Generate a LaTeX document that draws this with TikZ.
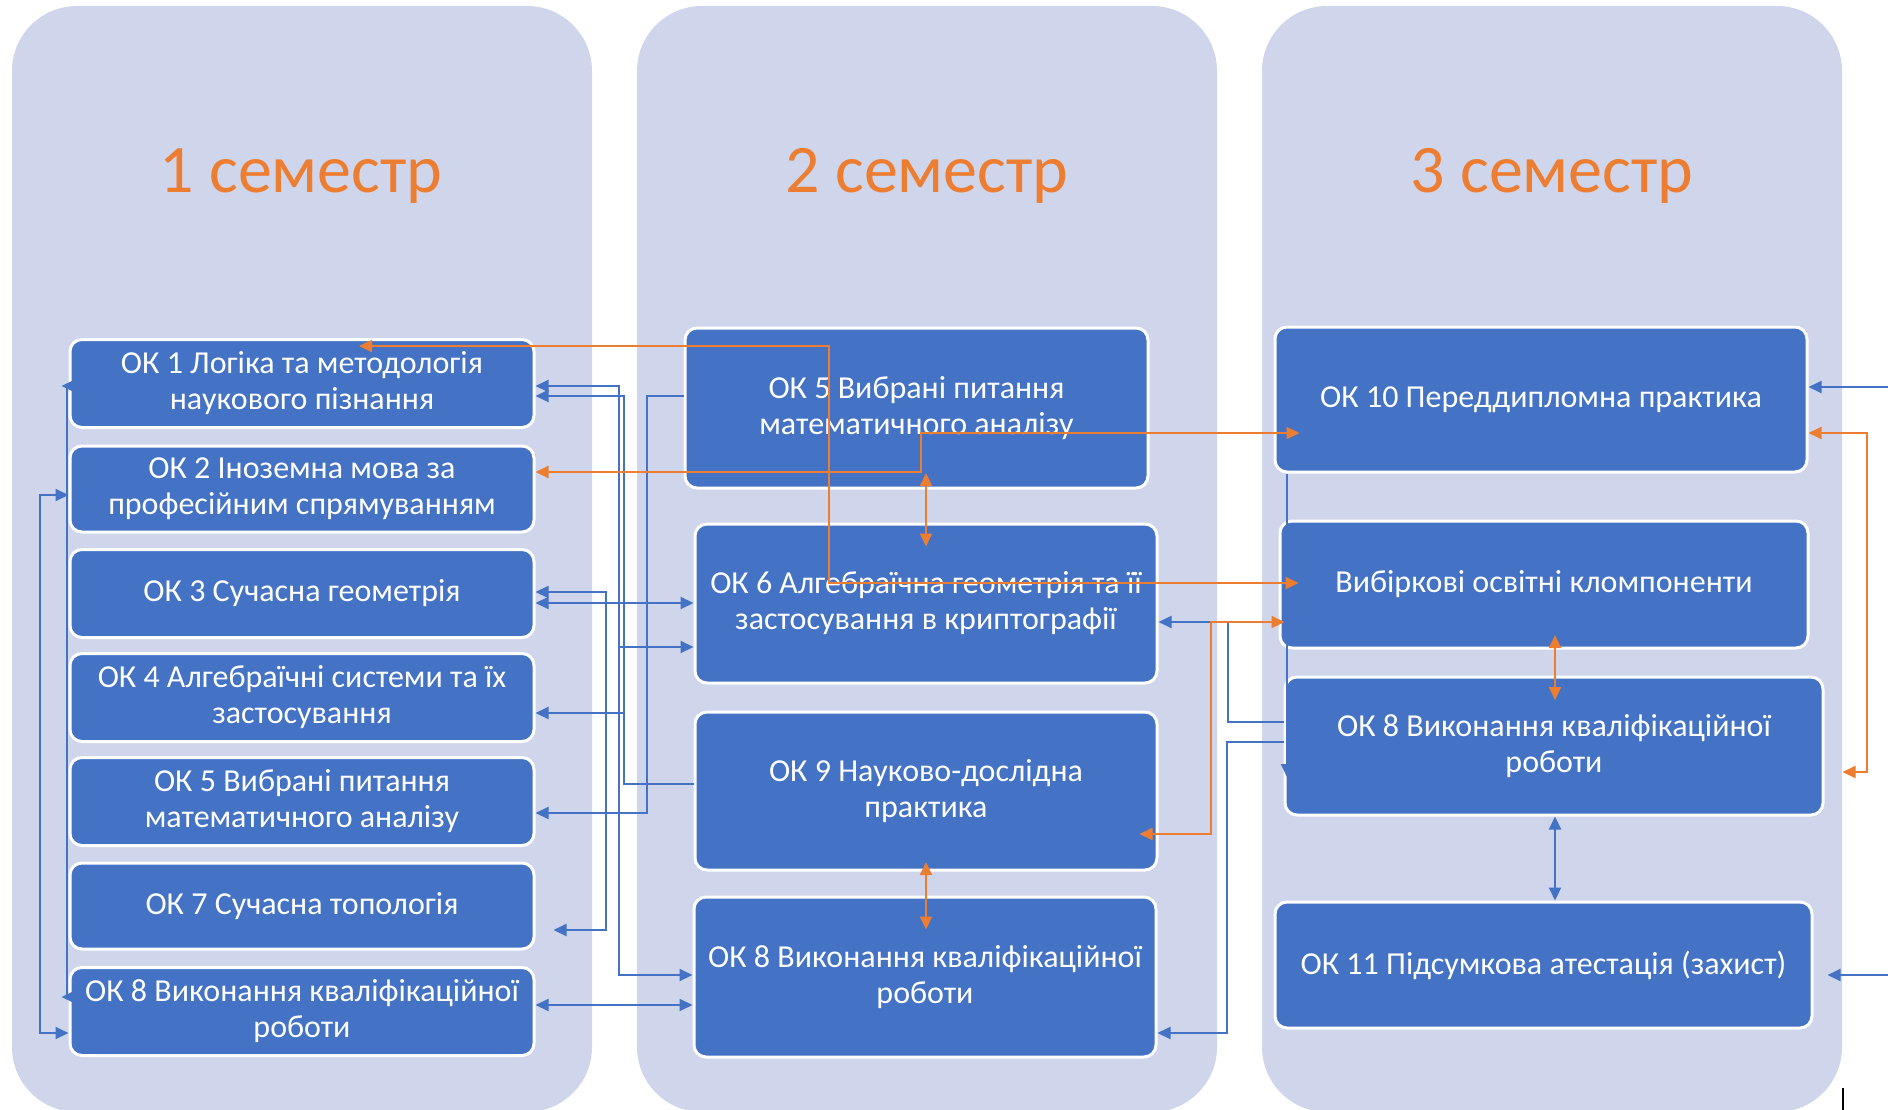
\documentclass[tikz,border=0pt]{standalone}
\usepackage{fontspec}
\setmainfont{Carlito}
\usetikzlibrary{arrows.meta,calc}
\definecolor{colbg}{HTML}{CFD5EA}
\definecolor{boxblue}{HTML}{4472C4}
\definecolor{orng}{HTML}{ED7D31}
\definecolor{lineblue}{HTML}{4472C4}
\begin{document}
\begin{tikzpicture}[x=1pt,y=-1pt,
  colstyle/.style={fill=colbg, draw=none, rounded corners=65pt},
  semtitle/.style={text=orng, font=\fontsize{68}{80}\selectfont, anchor=base, inner sep=0pt},
  okbox/.style={fill=boxblue, draw=white, line width=3pt, rounded corners=12pt, text=white,
    align=center, inner sep=0pt, font=\fontsize{32}{36}\selectfont},
  bl/.style={draw=lineblue, line width=2pt},
  ol/.style={draw=orng, line width=2.2pt},
  >={Triangle[length=13pt,width=12pt]}
]
\useasboundingbox (0,0) rectangle (1888,1110);
% columns
\path[colstyle] (12,6) rectangle (592,1112);
\path[colstyle] (637,6) rectangle (1217,1112);
\path[colstyle] (1262,6) rectangle (1842,1112);
% titles
\node[semtitle] (t1) at (301,193) {1 семестр};
\node[semtitle] (t2) at (927,193) {2 семестр};
\node[semtitle] (t3) at (1552,193) {3 семестр};
% column 1
\node[okbox, minimum width=464pt, minimum height=88pt] (ok1) at (302,383.5) {ОК 1 Логіка та методологія\\наукового пізнання};
\node[okbox, minimum width=464pt, minimum height=86pt] (ok2) at (302,489) {ОК 2 Іноземна мова за\\професійним спрямуванням};
\node[okbox, minimum width=464pt, minimum height=88pt] (ok3) at (302,593.5) {ОК 3 Сучасна геометрія};
\node[okbox, minimum width=464pt, minimum height=88pt] (ok4) at (302,697.5) {ОК 4 Алгебраїчні системи та їх\\застосування};
\node[okbox, minimum width=464pt, minimum height=88pt] (ok5a) at (302,801.5) {ОК 5 Вибрані питання\\математичного аналізу};
\node[okbox, minimum width=464pt, minimum height=86pt] (ok7) at (302,906) {ОК 7 Сучасна топологія};
\node[okbox, minimum width=464pt, minimum height=88pt] (ok8a) at (302,1011.5) {ОК 8 Виконання кваліфікаційної\\роботи};
% column 2
\node[okbox, minimum width=463pt, minimum height=160pt] (ok5b) at (916.5,408) {ОК 5 Вибрані питання\\математичного аналізу};
\node[okbox, minimum width=462pt, minimum height=159pt] (ok6) at (926,603.5) {ОК 6 Алгебраїчна геометрія та її\\застосування в криптографії};
\node[okbox, minimum width=462pt, minimum height=158pt] (ok9) at (926,791) {ОК 9 Науково-дослідна\\практика};
\node[okbox, minimum width=462pt, minimum height=160pt] (ok8b) at (925,977) {ОК 8 Виконання кваліфікаційної\\роботи};
% column 3
\node[okbox, minimum width=532pt, minimum height=145pt] (ok10) at (1541,399.5) {ОК 10 Переддипломна практика};
\node[okbox, minimum width=528pt, minimum height=127pt] (vyb) at (1544,584.5) {Вибіркові освітні кломпоненти};
\node[okbox, minimum width=538pt, minimum height=138pt] (ok8c) at (1554,746) {ОК 8 Виконання кваліфікаційної\\роботи};
\node[okbox, minimum width=537pt, minimum height=126pt] (ok11) at (1543.5,965) {ОК 11 Підсумкова атестація (захист)};
% free ends
\coordinate (r1) at (1888,387);
\coordinate (r2) at (1888,975);
% blue connectors
\draw[bl,<->] (ok1.east |- 0,386) -| (619,975) -- (ok8b.west |- 0,975);
\draw[bl,->] (619,647) -- (ok6.west |- 0,647);
\draw[bl,<-] (ok1.east |- 0,396) -| (624,784) -- (ok9.west |- 0,784);
\draw[bl,->] (624,713) -- (ok4.east |- 0,713);
\draw[bl,<->,shorten >=18pt] (ok3.east |- 0,592) -| (606,930) -- (ok7.east |- 0,930);
\draw[bl,<->] (ok3.east |- 0,603) -- (ok6.west |- 0,603);
\draw[bl,->] (ok5b.west |- 0,396) -| (647,813) -- (ok5a.east |- 0,813);
\draw[bl,<->] (ok8a.east |- 0,1005) -- (ok8b.west |- 0,1005);
\draw[bl,->] (ok8c.west |- 0,722) -| (1228,622) -- (ok6.east |- 0,622);
\draw[bl,->] (ok8c.west |- 0,742) -| (1227,1033) -- (ok8b.east |- 0,1033);
\draw[bl,<->] (ok2.west |- 0,495) -| (40,1033) -- (ok8a.west |- 0,1033);
\draw[bl] (67,386) -- (67,997);
\draw[bl,->] (ok1.west |- 0,386) -- ++(-7,0);
\draw[bl,->] (ok8a.west |- 0,997) -- ++(-7,0);
\draw[bl,->] (ok10.south -| 1287,0) -- (1287,777);
\draw[bl,->] (r1) -- (ok10.east |- r1);
\draw[bl,->,shorten >=14pt] (r2) -- (ok11.east |- r2);
\draw[bl,<->] (ok11.north -| 1555,0) -- (ok8c.south -| 1555,0);
% orange connectors
\draw[ol,<->] ($(ok1.north)+(57,8)$) -| (829,583) -- ($(vyb.west)+(20,-1.5)$);
\draw[ol,<->] (ok2.east |- 0,472) -| (921,433) -- ($(ok10.west |- 0,433)+(26,0)$);
\draw[ol,<->] (ok6.north |- 0,473) -- ($(ok6.north)+(0,24)$);
\draw[ol,<->] (ok9.south |- 0,862) -- ($(ok8b.north -| ok9.south)+(0,34)$);
\draw[ol,<->] ($(ok9.east |- 0,834)+(-19,0)$) -| (1211,622) -- ($(vyb.west |- 0,622)+(6,0)$);
\draw[ol,<->] (ok10.east |- 0,433) -| (1867,772) -- ($(ok8c.east |- 0,772)+(18,0)$);
\draw[ol,<->] (1555,635) -- (1555,700);
% stray mark
\draw[black, line width=1.5pt] (1843,1088) -- (1843,1110);
\end{tikzpicture}
\end{document}
